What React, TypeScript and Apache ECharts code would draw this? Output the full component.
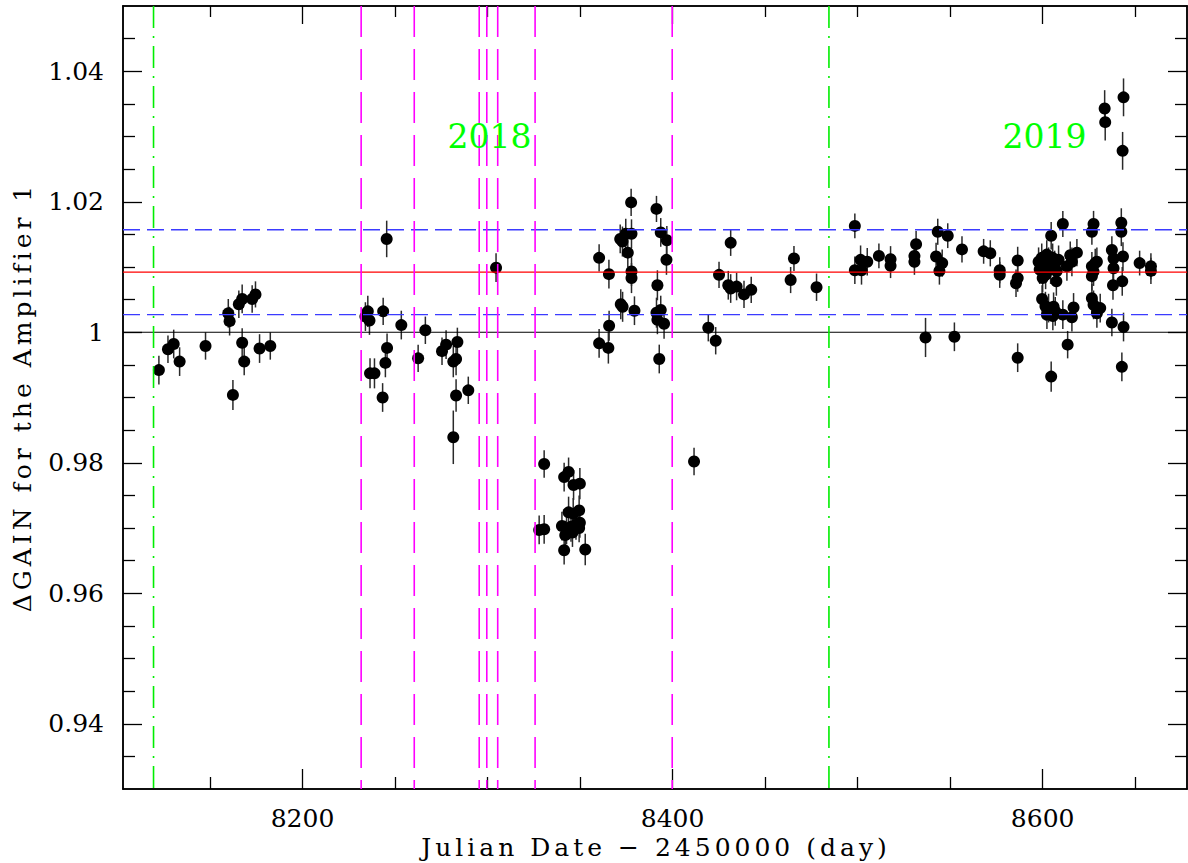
import React, { useEffect, useRef } from 'react';
import * as echarts from 'echarts';

// ---- Data (Julian Date - 2450000, relative gain, 1-sigma error) ----
const JD = [
  8122.4, 8127.3, 8130.4, 8133.6, 8147.6, 8159.9, 8160.6, 8162.4, 8165.6, 8167.4,
  8167.4, 8168.5, 8172.8, 8174.6, 8176.8, 8182.6,
  8234.0, 8235.3, 8236.2, 8236.5, 8238.9, 8243.3, 8243.6, 8244.8, 8245.5, 8245.7,
  8253.4, 8262.5, 8266.4, 8275.4, 8277.6, 8281.5, 8281.5, 8283.0, 8283.0, 8283.7,
  8289.6, 8304.6,
  8327.9, 8330.6, 8330.6, 8340.2, 8341.4, 8341.4, 8342.0, 8342.7, 8343.8, 8343.8,
  8345.1, 8345.9, 8346.3, 8346.5, 8347.8, 8349.5, 8349.5, 8349.9, 8349.9, 8352.8,
  8360.3, 8360.3, 8365.3, 8365.6, 8365.7, 8371.7, 8372.0, 8372.9, 8373.0, 8374.7,
  8375.8, 8377.6, 8377.8, 8377.8, 8377.8, 8379.4, 8391.3, 8391.3, 8391.8, 8391.8,
  8392.8, 8393.6, 8393.6, 8395.4, 8396.7, 8396.9,
  8411.6, 8419.3, 8423.3, 8425.1, 8430.1, 8431.4, 8431.4, 8434.6, 8438.6, 8442.5,
  8463.8, 8465.6, 8477.8,
  8498.5, 8498.5, 8501.6, 8502.1, 8505.2, 8511.5, 8517.8, 8517.8, 8530.7, 8530.7,
  8531.6, 8536.7, 8542.4, 8543.3, 8544.2, 8545.7, 8548.7, 8552.3, 8556.4, 8568.1,
  8571.7, 8576.8, 8576.8, 8585.6, 8586.5, 8586.5, 8586.5,
  8597.8, 8598.4, 8599.5, 8599.7, 8600.0, 8600.5, 8601.5, 8601.6, 8602.2, 8602.3,
  8603.2, 8603.2, 8604.3, 8604.6, 8604.6, 8605.4, 8605.5, 8605.9, 8606.5, 8606.8,
  8607.4, 8607.6, 8608.6, 8610.9, 8610.9, 8613.1, 8613.5, 8614.9, 8615.8, 8615.8,
  8616.7, 8618.5,
  8626.6, 8626.6, 8626.6, 8626.6, 8627.5, 8627.5, 8627.5, 8628.4, 8629.3, 8629.3,
  8631.1, 8633.5, 8633.8, 8637.4, 8637.4, 8638.0, 8638.3, 8638.3, 8642.5, 8642.5,
  8642.8, 8643.0, 8643.2, 8643.4, 8643.7, 8643.7, 8652.4, 8658.5, 8658.5,
];

const GAIN = [
  0.9942, 0.9974, 0.9982, 0.9955, 0.9979, 1.0029, 1.0017, 0.9904, 1.0043, 1.0051,
  0.9984, 0.9955, 1.0051, 1.0058, 0.9975, 0.9979,
  1.0024, 1.0032, 1.0018, 0.9937, 0.9937, 0.9900, 1.0032, 0.9953, 1.0143, 0.9976,
  1.0011, 0.9960, 1.0003, 0.9971, 0.9981, 0.9955, 0.9839, 0.9959, 0.9903, 0.9985,
  0.9911, 1.0099,
  0.9697, 0.9698, 0.9798, 0.9703, 0.9778, 0.9666, 0.9689, 0.9698, 0.9786, 0.9724,
  0.9702, 0.9693, 0.9722, 0.9766, 0.9705, 0.9727, 0.9700, 0.9768, 0.9708, 0.9667,
  1.0114, 0.9983, 0.9976, 1.0089, 1.0010, 1.0143, 1.0043, 1.0139, 1.0039, 1.0151,
  1.0122, 1.0199, 1.0151, 1.0093, 1.0083, 1.0033, 1.0189, 1.0030, 1.0072, 1.0019,
  0.9959, 1.0153, 1.0034, 1.0013, 1.0111, 1.0141,
  0.9802, 1.0007, 0.9987, 1.0088, 1.0072, 1.0137, 1.0067, 1.0070, 1.0058, 1.0065,
  1.0080, 1.0113, 1.0069,
  1.0163, 1.0095, 1.0111, 1.0095, 1.0108, 1.0117, 1.0112, 1.0102, 1.0117, 1.0108,
  1.0135, 0.9992, 1.0116, 1.0154, 1.0094, 1.0106, 1.0148, 0.9993, 1.0127, 1.0124,
  1.0121, 1.0095, 1.0088, 1.0075, 1.0110, 1.0083, 0.9961,
  1.0108, 1.0096, 1.0114, 1.0051, 1.0083, 1.0102, 1.0040, 1.0088, 1.0119, 1.0027,
  1.0108, 1.0037, 1.0096, 1.0148, 0.9932, 1.0114, 1.0025, 1.0039, 1.0103, 1.0032,
  1.0078, 1.0094, 1.0111, 1.0166, 1.0027, 1.0101, 0.9981, 1.0118, 1.0108, 1.0023,
  1.0038, 1.0122,
  1.0154, 1.0101, 1.0086, 1.0052, 1.0166, 1.0093, 1.0042, 1.0106, 1.0108, 1.0029,
  1.0037, 1.0343, 1.0322, 1.0126, 1.0015, 1.0072, 1.0113, 1.0098, 1.0168, 1.0154,
  0.9947, 1.0078, 1.0278, 1.0116, 1.0360, 1.0008, 1.0106, 1.0101, 1.0094,
];

const GAIN_ERR = [
  0.0022, 0.0021, 0.0022, 0.0022, 0.0021, 0.0022, 0.0022, 0.0023, 0.0021, 0.0022,
  0.0022, 0.0021, 0.0021, 0.0020, 0.0022, 0.0021,
  0.0022, 0.0024, 0.0022, 0.0023, 0.0023, 0.0022, 0.0021, 0.0022, 0.0028, 0.0022,
  0.0022, 0.0021, 0.0021, 0.0021, 0.0022, 0.0024, 0.0041, 0.0025, 0.0025, 0.0022,
  0.0021, 0.0022,
  0.0022, 0.0022, 0.0021, 0.0022, 0.0022, 0.0022, 0.0022, 0.0023, 0.0022, 0.0024,
  0.0023, 0.0022, 0.0024, 0.0023, 0.0023, 0.0023, 0.0022, 0.0024, 0.0023, 0.0024,
  0.0021, 0.0022, 0.0024, 0.0022, 0.0023, 0.0022, 0.0023, 0.0023, 0.0023, 0.0023,
  0.0022, 0.0021, 0.0022, 0.0022, 0.0023, 0.0022, 0.0020, 0.0023, 0.0023, 0.0022,
  0.0022, 0.0022, 0.0022, 0.0023, 0.0023, 0.0022,
  0.0021, 0.0021, 0.0021, 0.0020, 0.0022, 0.0020, 0.0022, 0.0021, 0.0021, 0.0020,
  0.0020, 0.0019, 0.0021,
  0.0019, 0.0021, 0.0022, 0.0022, 0.0021, 0.0019, 0.0020, 0.0019, 0.0019, 0.0020,
  0.0020, 0.0030, 0.0021, 0.0020, 0.0021, 0.0021, 0.0019, 0.0022, 0.0020, 0.0019,
  0.0020, 0.0020, 0.0020, 0.0021, 0.0021, 0.0021, 0.0022,
  0.0022, 0.0022, 0.0022, 0.0021, 0.0022, 0.0022, 0.0022, 0.0022, 0.0022, 0.0022,
  0.0022, 0.0022, 0.0022, 0.0021, 0.0023, 0.0022, 0.0022, 0.0022, 0.0022, 0.0022,
  0.0022, 0.0022, 0.0022, 0.0020, 0.0022, 0.0022, 0.0021, 0.0021, 0.0022, 0.0022,
  0.0022, 0.0021,
  0.0020, 0.0022, 0.0022, 0.0022, 0.0020, 0.0022, 0.0022, 0.0022, 0.0022, 0.0022,
  0.0022, 0.0028, 0.0028, 0.0021, 0.0021, 0.0022, 0.0021, 0.0021, 0.0022, 0.0022,
  0.0022, 0.0022, 0.0029, 0.0022, 0.0029, 0.0022, 0.0019, 0.0020, 0.0020,
];

// ---- Axes ----
const X_MIN = 8103;
const X_MAX = 8678;
const Y_MIN = 0.93;
const Y_MAX = 1.05;
const X_MAJOR = [8200, 8400, 8600];
const X_MINOR = [8150, 8250, 8300, 8350, 8450, 8500, 8550, 8650];
const Y_MAJOR = [0.94, 0.96, 0.98, 1, 1.02, 1.04];
const Y_MINOR = [0.935, 0.945, 0.95, 0.955, 0.965, 0.97, 0.975, 0.985, 0.99, 0.995,
  1.005, 1.01, 1.015, 1.025, 1.03, 1.035, 1.045];

// ---- Reference lines ----
const YEAR_START = [8119.5, 8484.5];
const EVENT_DATES = [8231.7, 8260.4, 8295.5, 8299.6, 8305.5, 8325.7, 8399.8];
const UNITY = 1.0;
const MEAN_GAIN = 1.0092;
const BAND = [1.0157, 1.0027];

// ---- Annotations ----
const YEAR_LABELS = ['2018', '2019'];
const YEAR_LABEL_X = [8301, 8601];
const YEAR_LABEL_Y = 1.030;

const X_TITLE = 'Julian Date \u2212 2450000 (day)';
const Y_TITLE = '\u0394GAIN for the Amplifier 1';

const FONT = '"DejaVu Serif", serif';

function xAxisDef(position: string, values: number[], length: number, showLabel: boolean) {
  return {
    type: 'value',
    position,
    min: X_MIN,
    max: X_MAX,
    axisLine: { show: true, onZero: false, lineStyle: { color: '#000', width: 1.5 } },
    axisTick: { show: true, inside: true, length, customValues: values, lineStyle: { color: '#000', width: 1.3 } },
    axisLabel: {
      show: showLabel,
      customValues: values,
      formatter: (v: number) => String(v),
      fontSize: 25,
      fontFamily: FONT,
      color: '#000',
      margin: 17,
      lineHeight: 24,
    },
    splitLine: { show: false },
    minorTick: { show: false },
  };
}

function yAxisDef(position: string, values: number[], length: number, showLabel: boolean) {
  return {
    type: 'value',
    position,
    min: Y_MIN,
    max: Y_MAX,
    axisLine: { show: true, onZero: false, lineStyle: { color: '#000', width: 1.5 } },
    axisTick: { show: true, inside: true, length, customValues: values, lineStyle: { color: '#000', width: 1.3 } },
    axisLabel: {
      show: showLabel,
      customValues: values,
      formatter: (v: number) => String(v),
      fontSize: 25,
      fontFamily: FONT,
      color: '#000',
      margin: 19,
    },
    splitLine: { show: false },
    minorTick: { show: false },
  };
}

function refLine(points: number[][], color: string, width: number, type: any, z = 4) {
  return {
    type: 'line',
    data: points,
    showSymbol: false,
    symbol: 'none',
    silent: true,
    clip: true,
    z,
    lineStyle: { color, width, type },
  };
}

export default function App() {
  const ref = useRef<HTMLDivElement>(null);

  useEffect(() => {
    const el = ref.current;
    if (!el) return;
    const chart = echarts.init(el, null, { renderer: 'svg' });

    const points = JD.map((x, i) => [x, GAIN[i], GAIN_ERR[i]]);

    const series: any[] = [
      {
        type: 'custom',
        silent: true,
        z: 2,
        encode: { x: 0, y: 1 },
        data: points,
        renderItem: (_params: any, api: any) => {
          const x = api.value(0);
          const y = api.value(1);
          const e = api.value(2);
          const lo = api.coord([x, y - e]);
          const hi = api.coord([x, y + e]);
          return {
            type: 'line',
            shape: { x1: lo[0], y1: lo[1], x2: hi[0], y2: hi[1] },
            style: { stroke: '#2a2a2a', lineWidth: 1.5 },
          };
        },
      },
      {
        type: 'scatter',
        silent: true,
        z: 3,
        symbol: 'circle',
        symbolSize: 12,
        itemStyle: { color: '#000', opacity: 1 },
        data: points.map((p) => [p[0], p[1]]),
      },
      refLine([[X_MIN, UNITY], [X_MAX, UNITY]], '#000', 1.2, 'solid'),
      refLine([[X_MIN, MEAN_GAIN], [X_MAX, MEAN_GAIN]], '#ff0000', 1.3, 'solid'),
      ...BAND.map((b) => refLine([[X_MIN, b], [X_MAX, b]], '#3b3bff', 1.4, [17, 7])),
      ...EVENT_DATES.map((d) => refLine([[d, Y_MAX], [d, Y_MIN]], '#ff00ff', 1.6, [31, 12])),
      ...YEAR_START.map((d) => refLine([[d, Y_MAX], [d, Y_MIN]], '#00ee00', 1.6, [22, 8, 2, 8])),
      {
        type: 'scatter',
        silent: true,
        z: 6,
        symbol: 'circle',
        symbolSize: 2,
        itemStyle: { color: 'rgba(0,0,0,0)' },
        data: YEAR_LABELS.map((t, i) => [YEAR_LABEL_X[i], YEAR_LABEL_Y, t]),
        label: {
          show: true,
          position: 'inside',
          formatter: (p: any) => p.value[2],
          color: '#00ff00',
          opacity: 1,
          fontSize: 33,
          fontFamily: FONT,
        },
      },
    ];

    const option: any = {
      animation: false,
      backgroundColor: '#fff',
      grid: { left: 123, right: 1, top: 6, bottom: 74, containLabel: false, outerBoundsMode: 'none' },
      xAxis: [
        xAxisDef('bottom', X_MAJOR, 20, true),
        xAxisDef('bottom', X_MINOR, 12, false),
        xAxisDef('top', X_MAJOR, 18, false),
        xAxisDef('top', X_MINOR, 11, false),
      ],
      yAxis: [
        yAxisDef('left', Y_MAJOR, 19, true),
        yAxisDef('left', Y_MINOR, 12, false),
        yAxisDef('right', Y_MAJOR, 19, false),
        yAxisDef('right', Y_MINOR, 12, false),
      ],
      graphic: [
        {
          type: 'text',
          x: 656,
          y: 847,
          silent: true,
          style: {
            text: X_TITLE,
            fontSize: 25,
            fontFamily: FONT,
            fill: '#000',
            align: 'center',
            verticalAlign: 'middle',
            lineHeight: 24,
          },
        },
        {
          type: 'text',
          x: 22,
          y: 397,
          rotation: Math.PI / 2,
          silent: true,
          style: {
            text: Y_TITLE,
            fontSize: 25,
            fontFamily: FONT,
            fill: '#000',
            align: 'center',
            verticalAlign: 'middle',
          },
        },
      ],
      series,
    };

    chart.setOption(option);

    const spaceTitles = () => {
      el.querySelectorAll('text').forEach((t) => {
        const s = t.textContent || '';
        if (s === X_TITLE || s === Y_TITLE) t.setAttribute('letter-spacing', '4');
      });
    };
    spaceTitles();
    chart.on('finished', spaceTitles);

    return () => {
      chart.dispose();
    };
  }, []);

  return (
    <div
      ref={ref}
      style={{ position: 'absolute', left: 0, top: 0, width: 1188, height: 863, background: '#fff' }}
    />
  );
}
